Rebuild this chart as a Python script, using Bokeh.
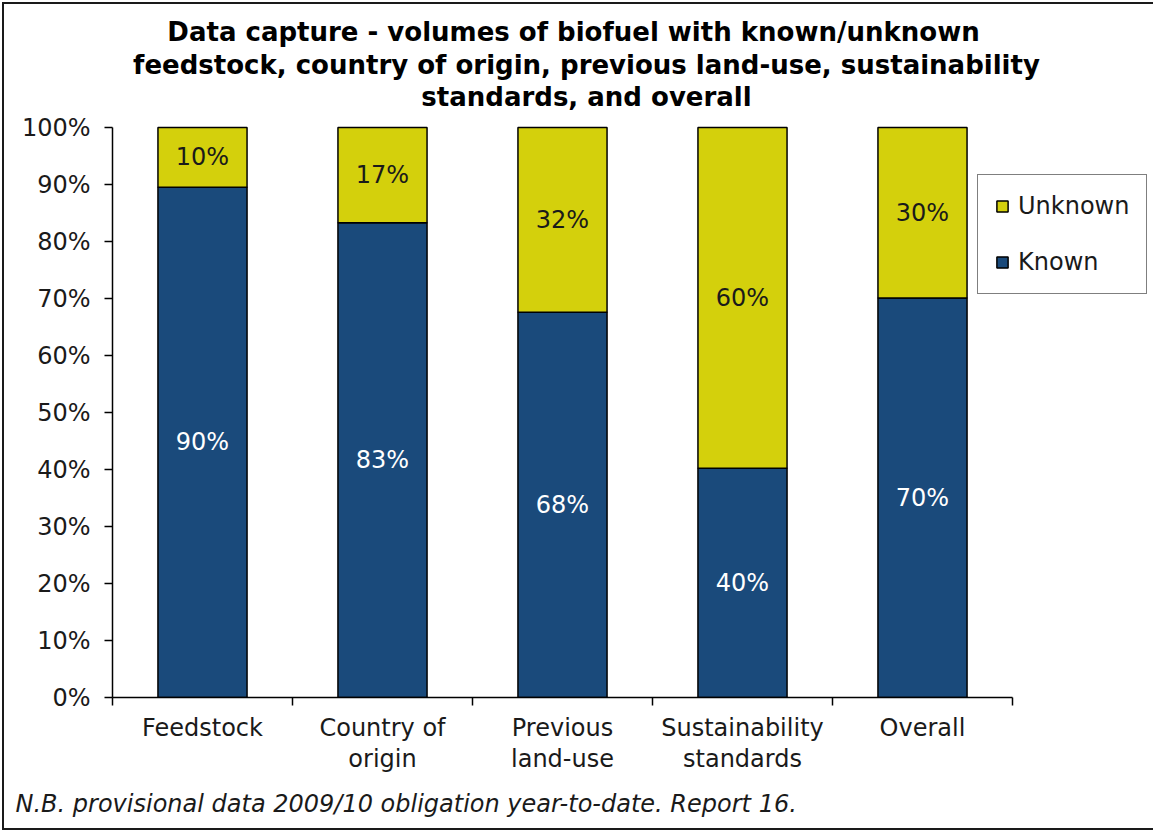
from bokeh.plotting import figure
from bokeh.models import (ColumnDataSource, Range1d, LinearAxis, FixedTicker,
                          Legend, LegendItem, Label, Title)
from bokeh.core.properties import value
from bokeh.embed import file_html
from bokeh.resources import INLINE

# ---------------- data ----------------
categories = ["Feedstock", "Country of origin", "Previous land-use",
              "Sustainability standards", "Overall"]
label_line1 = ["Feedstock", "Country of", "Previous", "Sustainability", "Overall"]
label_line2 = ["", "origin", "land-use", "standards", ""]
known = [89.5, 83.3, 67.6, 40.2, 70.1]
unknown = [10.5, 16.7, 32.4, 59.8, 29.9]
series_names = ["Known", "Unknown"]
y_ticks = [0, 10, 20, 30, 40, 50, 60, 70, 80, 90, 100]
y_tick_labels = ["0%", "10%", "20%", "30%", "40%", "50%", "60%", "70%", "80%", "90%", "100%"]
title_lines = ["Data capture - volumes of biofuel with known/unknown",
               "feedstock, country of origin, previous land-use, sustainability",
               "standards, and overall"]
footnote = "N.B. provisional data 2009/10 obligation year-to-date. Report 16."

# ---------------- style ----------------
FONT = "DejaVu Sans"
BLUE = "#1A4A7B"
YELLOW = "#D4D00C"
TEXT = "#1a1a1a"

# page geometry (pixels in the page; the figure sits at the page origin)
PAGE_W, PAGE_H = 1153, 832
PLOT_L, PLOT_R, PLOT_T, PLOT_B = 112, 1012, 127, 697      # the 0-100% / 5-category area
FRAME_R = 1150
n = len(categories)
PX_PER_CAT = (PLOT_R - PLOT_L) / n
PX_PER_PCT = (PLOT_B - PLOT_T) / 100.0

def px_to_x(px):
    return (px - PLOT_L) / PX_PER_CAT

def py_to_y(py):
    return (PLOT_B - py) / PX_PER_PCT

xs = [i + 0.5 for i in range(n)]            # category centres on the x scale
src = ColumnDataSource(dict(x=xs, category=categories, Known=known, Unknown=unknown))

p = figure(x_range=Range1d(0, px_to_x(FRAME_R)), y_range=Range1d(0, py_to_y(0)),
           width=PAGE_W, height=PAGE_H,
           output_backend="svg", toolbar_location=None,
           x_axis_location=None, y_axis_location="left",
           min_border_left=PLOT_L, min_border_right=PAGE_W - FRAME_R,
           min_border_top=0, min_border_bottom=PAGE_H - PLOT_B)
p.styles = {"box-shadow": ("inset 2px 0 0 0 #ffffff, inset 0 2px 0 0 #ffffff, "
                           "inset 0 -2px 0 0 #ffffff, "
                           "inset 4px 0 0 0 #1a1a1a, inset 0 4px 0 0 #1a1a1a, "
                           "inset 0 -4px 0 0 #1a1a1a")}
p.outline_line_color = None
p.background_fill_alpha = 0
p.border_fill_alpha = 0
for g in p.grid:
    g.visible = False

rs = p.vbar_stack(series_names, x="x", width=0.495, source=src,
                  fill_color=[BLUE, YELLOW], line_color="black", line_width=1.5)

# data labels (segment mid-points)
lab_x, lab_y, lab_t, lab_c = [], [], [], []
for x, k, u in zip(xs, known, unknown):
    lab_x += [x, x]
    lab_y += [k / 2.0, k + u / 2.0]
    lab_t += [f"{k:.0f}%", f"{u:.0f}%"]
    lab_c += ["#ffffff", TEXT]
p.text(x="x", y="y", text="t", text_color="c",
       source=ColumnDataSource(dict(x=lab_x, y=lab_y, t=lab_t, c=lab_c)),
       text_align="center", text_baseline="middle",
       text_font=value(FONT), text_font_size="24px")

# y axis
ya = p.yaxis[0]
ya.bounds = (0, 100)
ya.ticker = FixedTicker(ticks=y_ticks)
ya.major_label_overrides = dict(zip(y_ticks, y_tick_labels))
ya.axis_line_color = "black"
ya.axis_line_width = 1.5
ya.major_tick_line_color = "black"
ya.major_tick_line_width = 1.5
ya.major_tick_out = 8
ya.major_tick_in = 0
ya.minor_tick_line_color = None
ya.major_label_standoff = 14
ya.major_label_text_font = FONT
ya.major_label_text_font_size = "24px"
ya.major_label_text_color = TEXT

# x axis: boundary ticks (minor) + first line of category labels
xa1 = LinearAxis(ticker=FixedTicker(ticks=xs, minor_ticks=list(range(n + 1))),
                 bounds=(0, n),
                 major_label_overrides=dict(zip(xs, label_line1)),
                 axis_line_color="black", axis_line_width=1.5,
                 major_tick_line_color=None, major_tick_out=8, major_tick_in=0,
                 minor_tick_line_color="black", minor_tick_line_width=1.5,
                 minor_tick_out=8, minor_tick_in=0,
                 major_label_standoff=8,
                 major_label_text_font=FONT, major_label_text_font_size="24px",
                 major_label_text_color=TEXT)
p.add_layout(xa1, "below")
# second line of category labels
xs2 = [x for x, t in zip(xs, label_line2) if t]
xa2 = LinearAxis(ticker=FixedTicker(ticks=xs2, minor_ticks=[]),
                 bounds=(0, n),
                 major_label_overrides={x: t for x, t in zip(xs, label_line2) if t},
                 axis_line_color=None, major_tick_line_color=None,
                 major_tick_out=0, major_tick_in=0, minor_tick_line_color=None,
                 major_label_standoff=0,
                 major_label_text_font=FONT, major_label_text_font_size="24px",
                 major_label_text_color=TEXT)
p.add_layout(xa2, "below")

# footnote
p.add_layout(Title(text=footnote, align="left", offset=15 - PLOT_L, standoff=25,
                   text_font=FONT, text_font_size="24px", text_font_style="italic",
                   text_color=TEXT), "below")

# legend
legend = Legend(items=[LegendItem(label=series_names[1], renderers=[rs[1]]),
                       LegendItem(label=series_names[0], renderers=[rs[0]])],
                location=(977 - PLOT_L, PLOT_B - 294), margin=0,
                label_text_font=FONT, label_text_font_size="24px",
                label_text_color=TEXT,
                glyph_width=14, glyph_height=14, label_standoff=9,
                padding=17, spacing=28,
                border_line_color="black", border_line_width=1.5,
                background_fill_color="white", background_fill_alpha=1.0)
p.add_layout(legend)

# title lines
title_centres = [(573, 31), (586, 64), (586, 96)]
for line, (cx, cy) in zip(title_lines, title_centres):
    p.add_layout(Label(x=px_to_x(cx), y=py_to_y(cy),
                       text=line, text_align="center", text_baseline="middle",
                       text_font=FONT, text_font_size="26px",
                       text_font_style="bold", text_color="black"))

open("out.html", "w").write(file_html(p, INLINE))
